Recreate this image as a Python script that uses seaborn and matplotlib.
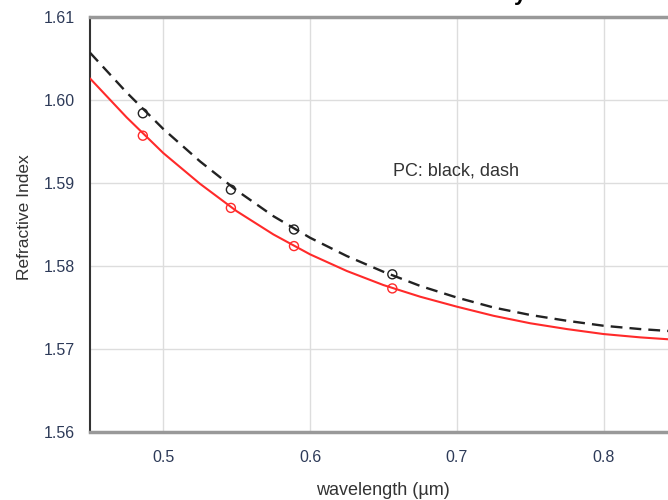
import matplotlib
matplotlib.use("Agg")
import matplotlib.pyplot as plt
import seaborn as sns
import pandas as pd

# Curve readings (wavelength in µm, refractive index)
wl_curve = [0.45, 0.475, 0.5, 0.525, 0.55, 0.575, 0.6, 0.625, 0.65, 0.675,
            0.7, 0.725, 0.75, 0.775, 0.8, 0.825, 0.85]
n_pc_curve = [1.6057, 1.6009, 1.5965, 1.5926, 1.5891, 1.5860, 1.5834, 1.5812,
              1.5793, 1.5776, 1.5762, 1.5750, 1.5741, 1.5734, 1.5728, 1.5724, 1.5721]
n_red_curve = [1.6026, 1.5979, 1.5936, 1.5899, 1.5866, 1.5838, 1.5814, 1.5794,
               1.5777, 1.5763, 1.5751, 1.5740, 1.5731, 1.5724, 1.5718, 1.5714, 1.5711]

# Measured points
wl_pts = [0.486, 0.546, 0.589, 0.656]
n_pc_pts = [1.5984, 1.5892, 1.5844, 1.5790]
n_red_pts = [1.5957, 1.5870, 1.5824, 1.5773]

x_ticks = [0.5, 0.6, 0.7, 0.8]
y_ticks = [1.56, 1.57, 1.58, 1.59, 1.60, 1.61]

sns.set_style("white")
plt.rcParams['font.family'] = ['Liberation Sans', 'DejaVu Sans']

fig = plt.figure(figsize=(6.68, 5), dpi=100)
ax = fig.add_axes([90 / 668, 68 / 500, 587 / 668, 415 / 500])

df_curve = pd.DataFrame({"wl": wl_curve, "pc": n_pc_curve, "red": n_red_curve})
df_pts = pd.DataFrame({"wl": wl_pts, "pc": n_pc_pts, "red": n_red_pts})

red = "#ff2a2a"
sns.lineplot(data=df_curve, x="wl", y="red", ax=ax, color=red, lw=1.5, zorder=3)
sns.lineplot(data=df_curve, x="wl", y="pc", ax=ax, color="#222222", lw=1.7,
             zorder=4)
ax.lines[-1].set_dashes([5, 3])
sns.scatterplot(data=df_pts, x="wl", y="red", ax=ax, s=42, marker="o",
                facecolor="none", edgecolor=red, linewidth=1.0, zorder=5)
sns.scatterplot(data=df_pts, x="wl", y="pc", ax=ax, s=42, marker="o",
                facecolor="none", edgecolor="#222222", linewidth=1.0, zorder=5)

ax.set_xlim(0.45, 0.85)
ax.set_ylim(1.56, 1.61)
ax.set_xticks(x_ticks)
ax.set_xticklabels([f"{v:.1f}" for v in x_ticks])
ax.set_yticks(y_ticks)
ax.set_yticklabels([f"{v:.2f}" for v in y_ticks])

ax.grid(True, color="#dddddd", lw=1)
ax.set_axisbelow(True)

ax.tick_params(axis="both", direction="out", length=5, width=1.5,
               color="#222222", labelcolor="#2d3a58", labelsize=11.5)
ax.tick_params(axis="y", pad=6)
ax.tick_params(axis="x", pad=8)

ax.spines["left"].set_color("#333333")
ax.spines["left"].set_linewidth(1.5)
for s in ("top", "bottom"):
    ax.spines[s].set_color("#999999")
    ax.spines[s].set_linewidth(2.5)
ax.spines["right"].set_visible(False)

ax.set_xlabel("wavelength (µm)", fontsize=13, color="#333333")
ax.set_ylabel("Refractive Index", fontsize=12.5, color="#333333")
ax.xaxis.label.set_va("center")
ax.yaxis.label.set_va("center")
ax.xaxis.set_label_coords(0.499, -0.142)
ax.yaxis.set_label_coords(-0.112, 0.518)

ax.text(0.6568, 1.5914, "PC: black, dash", fontsize=13, color="#333333",
        ha="left", va="center")

fig.text(520 / 668, 1.0, "y", fontsize=16, fontweight="bold", color="black",
         ha="center", va="baseline")

fig.savefig("out.png", dpi=100)
